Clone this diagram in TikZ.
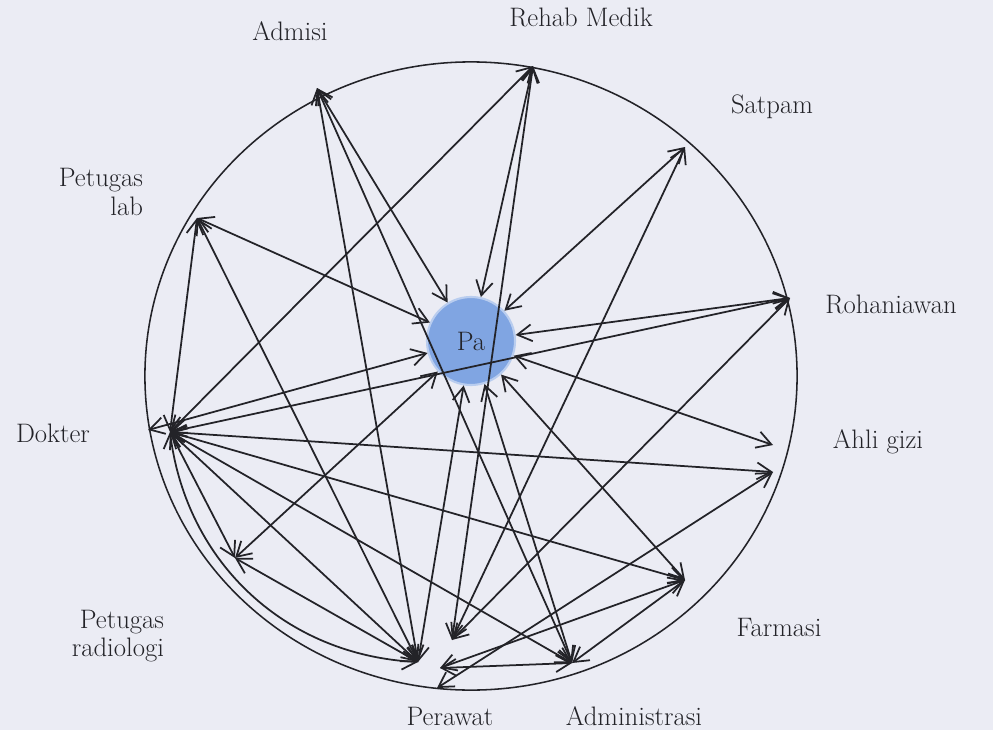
\documentclass[tikz,border=0pt]{standalone}
\usepackage{xcolor}
\usepackage{tikz}
\usetikzlibrary{arrows.meta}
\definecolor{paper}{RGB}{235,236,244}
\definecolor{pablue}{RGB}{128,165,226}
\definecolor{ink}{RGB}{35,35,40}

\begin{document}
\begin{tikzpicture}[x=0.025cm,y=-0.025cm,
  lbl/.style={font=\fontsize{19}{20}\selectfont,text=ink},
  rel/.style={<->,>={Straight Barb[length=3.6mm,width=4.2mm]},line width=1.25pt,draw=ink}]
\fill[paper](0,0)rectangle(993,730);
\useasboundingbox(0,0)rectangle(993,730);
\draw[ink,line width=1.1pt](471,376)ellipse[x radius=8.15cm,y radius=7.85cm];
\node[circle,fill=pablue,draw=pablue!55!white,line width=1.5pt,minimum size=2.2cm,lbl](Pa)at(471,341){Pa};
\coordinate(Ad)at(317,88);
\coordinate(Rm)at(533,66);
\coordinate(Sp)at(685,147);
\coordinate(Rw)at(790,298);
\coordinate(GzA)at(773,445);
\coordinate(GzB)at(773,472);
\coordinate(Fm)at(685,580);
\coordinate(As)at(572,663);
\coordinate(Pw)at(418,662);
\coordinate(Pw2)at(437,688);
\coordinate(Pw3)at(452,640);
\coordinate(Pw4)at(440,668);
\coordinate(Rd)at(235,558);
\coordinate(Dk)at(170,432);
\coordinate(Dk0)at(148,430);
\coordinate(Lb)at(197,218);
\foreach \a/\b in {Ad/Pa,Rm/Pa,Sp/Pa,Rw/Pa,GzA/Pa,Fm/Pa,As/Pa,Pw/Pa,Rd/Pa,Dk0/Pa,Lb/Pa,
  Ad/Pw,Ad/As,Rm/Pw3,Rm/Dk,Sp/Pw3,Rw/Dk,Rw/Pw3,Dk/GzB,Pw2/GzB,Dk/Fm,Fm/Pw4,Fm/As,
  Dk/As,Pw4/As,Dk/Rd,Dk/Pw,Rd/Pw,Lb/Dk,Lb/Pw}\draw[rel](\a)--(\b);
\draw[rel](Dk)to[bend right=40](Pw);
\node[lbl](tAd)at(290,31){Admisi};
\node[lbl](tRm)at(581,17){Rehab Medik};
\node[lbl](tSp)at(772,107){Satpam};
\node[lbl](tRw)at(891,304){Rohaniawan};
\node[lbl](tGz)at(878,442){Ahli gizi};
\node[lbl](tFm)at(779,628){Farmasi};
\node[lbl](tAs)at(634,716){Administrasi};
\node[lbl](tPw)at(450,716){Perawat};
\node[lbl](tDk)at(53,433){Dokter};
\node[lbl,align=right,anchor=east](tLb)at(148,192){Petugas\\lab};
\node[lbl,align=right,anchor=east](tRd)at(169,636){Petugas\\radiologi};
\end{tikzpicture}
\end{document}
